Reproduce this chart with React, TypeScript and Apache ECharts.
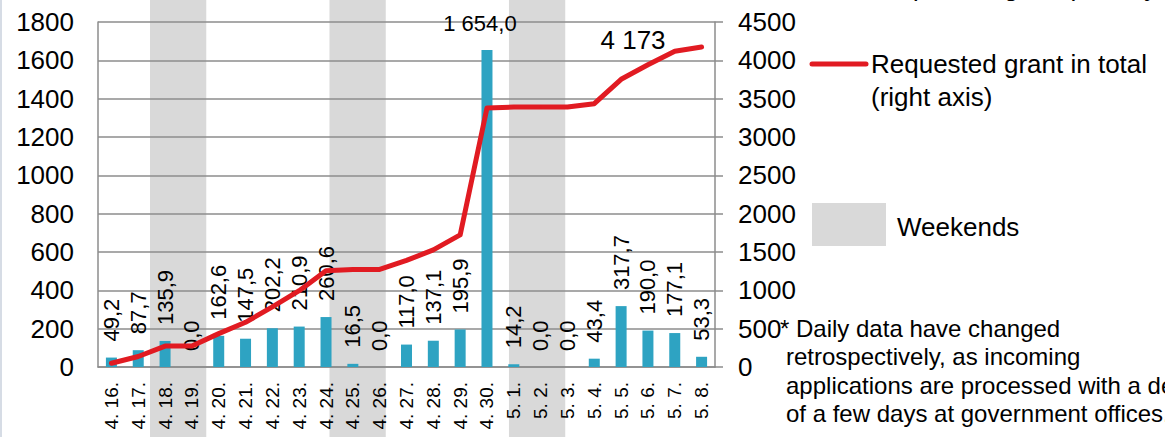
import React, { useEffect, useRef } from "react";
import * as echarts from "echarts";

const categories = [
  "4. 16.", "4. 17.", "4. 18.", "4. 19.", "4. 20.", "4. 21.", "4. 22.", "4. 23.",
  "4. 24.", "4. 25.", "4. 26.", "4. 27.", "4. 28.", "4. 29.", "4. 30.",
  "5. 1.", "5. 2.", "5. 3.", "5. 4.", "5. 5.", "5. 6.", "5. 7.", "5. 8.",
];
const dailyGrant = [
  49.2, 87.7, 135.9, 0.0, 162.6, 147.5, 202.2, 210.9, 260.6, 16.5, 0.0, 117.0,
  137.1, 195.9, 1654.0, 14.2, 0.0, 0.0, 43.4, 317.7, 190.0, 177.1, 53.3,
];
const totalGrant = [
  49.2, 136.9, 272.8, 272.8, 435.4, 582.9, 785.1, 996.0, 1256.6, 1273.1, 1273.1,
  1390.1, 1527.2, 1723.1, 3377.1, 3391.3, 3391.3, 3391.3, 3434.7, 3752.4, 3942.4,
  4119.5, 4172.8,
];
// weekends: days counted from 4. 16. (Saturday starts)
const weekendStartDay = [2, 9, 16];
const weekendLength = 2;
const leftTicks = { min: 0, max: 1800, interval: 200 };
const rightTicks = { min: 0, max: 4500, interval: 500 };

const FONT = "'Liberation Sans', Arial, sans-serif";
const RED = "#E11B22";
const BLUE = "#2EA3C2";
const GRID = "#8C8C8C";
const GRAY = "#D9D9D9";

function fmt(v: number, decimals: number): string {
  const s = v.toFixed(decimals);
  const [i, d] = s.split(".");
  const ii = i.replace(/\B(?=(\d{3})+(?!\d))/g, " ");
  return d !== undefined ? ii + "," + d : ii;
}

export default function App() {
  const ref = useRef<HTMLDivElement>(null);
  useEffect(() => {
    if (!ref.current) return;
    const chart = echarts.init(ref.current, null, { renderer: "svg" });
    const weekendData = weekendStartDay.map((s) => [s, s + weekendLength]);
    const barData = dailyGrant.map((v) =>
      v > 1000
        ? {
            value: v,
            label: {
              rotate: 0,
              align: "center",
              verticalAlign: "bottom",
              distance: 15,
              offset: [-7, 0],
            },
          }
        : v
    );
    const lineData = totalGrant.map((v, i) =>
      i === totalGrant.length - 1
        ? {
            value: v,
            label: {
              show: true,
              position: "left",
              distance: 35,
              offset: [0, -7],
              fontSize: 26,
              color: "#000",
              fontFamily: FONT,
              formatter: (p: any) => fmt(p.value, 0),
            },
          }
        : v
    );
    const option: any = {
      animation: false,
      textStyle: { fontFamily: FONT },
      grid: [
        { left: 98, right: 450, top: 22, bottom: 70 },
        { left: 98.7, width: 615.4, top: 0, bottom: 0 },
      ],
      xAxis: [
        {
          type: "category",
          gridIndex: 0,
          data: categories,
          axisLine: { show: true, lineStyle: { color: GRID, width: 1.5 } },
          axisTick: { show: false },
          axisLabel: {
            rotate: 90,
            margin: 15,
            fontSize: 19,
            color: "#000",
            interval: 0,
            fontFamily: FONT,
          },
          splitLine: { show: false },
        },
        { type: "value", gridIndex: 1, min: 0, max: 24, show: false },
      ],
      yAxis: [
        {
          type: "value",
          gridIndex: 0,
          ...leftTicks,
          axisLine: { show: true, lineStyle: { color: GRID, width: 1.5 } },
          axisTick: { show: false },
          axisLabel: {
            fontSize: 26,
            color: "#000",
            margin: 24,
            fontFamily: FONT,
            formatter: (v: number) => String(v),
          },
          splitLine: { show: true, lineStyle: { color: GRID, width: 1.5 } },
        },
        {
          type: "value",
          gridIndex: 0,
          position: "right",
          ...rightTicks,
          axisLine: { show: true, lineStyle: { color: GRID, width: 1.5 } },
          axisTick: { show: true, inside: false, length: 8, lineStyle: { color: GRID, width: 1.5 } },
          axisLabel: {
            fontSize: 26,
            color: "#000",
            margin: 23,
            fontFamily: FONT,
            formatter: (v: number) => String(v),
          },
          splitLine: { show: false },
        },
        { type: "value", gridIndex: 1, min: 0, max: 1, show: false },
      ],
      series: [
        {
          type: "custom",
          name: "Weekends",
          xAxisIndex: 1,
          yAxisIndex: 2,
          z: -1,
          silent: true,
          data: weekendData,
          renderItem: (params: any, api: any) => {
            const p0 = api.coord([api.value(0), 0]);
            const p1 = api.coord([api.value(1), 1]);
            return {
              type: "rect",
              shape: { x: p0[0], y: p1[1], width: p1[0] - p0[0] + 5, height: p0[1] - p1[1] },
              style: { fill: GRAY },
            };
          },
        },
        {
          type: "bar",
          name: "Requested grant per day",
          xAxisIndex: 0,
          yAxisIndex: 0,
          data: barData,
          barWidth: 11,
          itemStyle: { color: BLUE },
          z: 2,
          label: {
            show: true,
            position: "top",
            rotate: 90,
            align: "left",
            verticalAlign: "middle",
            distance: 16,
            fontSize: 22,
            color: "#000",
            fontFamily: FONT,
            formatter: (p: any) => fmt(p.value, 1),
          },
        },
        {
          type: "line",
          name: "Requested grant in total (right axis)",
          xAxisIndex: 0,
          yAxisIndex: 1,
          data: lineData,
          symbol: "circle",
          symbolSize: 2,
          showSymbol: true,
          itemStyle: { color: RED },
          z: 3,
          label: { show: false },
          lineStyle: { color: RED, width: 5, cap: "round", join: "round" },
        },
      ],
      graphic: [
        { type: "rect", shape: { x: 0, y: 0, width: 2, height: 437 }, style: { fill: "#D6DCE5" } },
        {
          type: "text",
          x: 871,
          y: 0,
          style: {
            text: "Requested grant per day",
            fontSize: 26,
            lineHeight: 26,
            verticalAlign: "bottom",
            fill: "#000",
            fontFamily: FONT,
          },
        },
        {
          type: "line",
          shape: { x1: 812, y1: 64, x2: 866, y2: 64 },
          style: { stroke: RED, lineWidth: 5, lineCap: "round" },
        },
        {
          type: "text",
          x: 871,
          y: 47,
          style: {
            text: "Requested grant in total\n(right axis)",
            fontSize: 26,
            lineHeight: 33,
            verticalAlign: "top",
            fill: "#000",
            fontFamily: FONT,
          },
        },
        { type: "rect", shape: { x: 812, y: 203, width: 74, height: 43 }, style: { fill: GRAY } },
        {
          type: "text",
          x: 897,
          y: 227,
          style: {
            text: "Weekends",
            fontSize: 26,
            verticalAlign: "middle",
            fill: "#000",
            fontFamily: FONT,
          },
        },
        {
          type: "text",
          x: 780,
          y: 314,
          style: {
            text: "* Daily data have changed",
            fontSize: 24,
            lineHeight: 28.5,
            verticalAlign: "top",
            fill: "#000",
            fontFamily: FONT,
          },
        },
        {
          type: "text",
          x: 786,
          y: 342.5,
          style: {
            text:
              "retrospectively, as incoming\napplications are processed with a delay\nof a few days at government offices.",
            fontSize: 24,
            lineHeight: 28.5,
            verticalAlign: "top",
            fill: "#000",
            fontFamily: FONT,
          },
        },
      ],
    };
    chart.setOption(option);
    return () => chart.dispose();
  }, []);
  return (
    <div
      ref={ref}
      style={{ position: "absolute", left: 0, top: 0, width: 1165, height: 437, background: "#fff" }}
    />
  );
}
